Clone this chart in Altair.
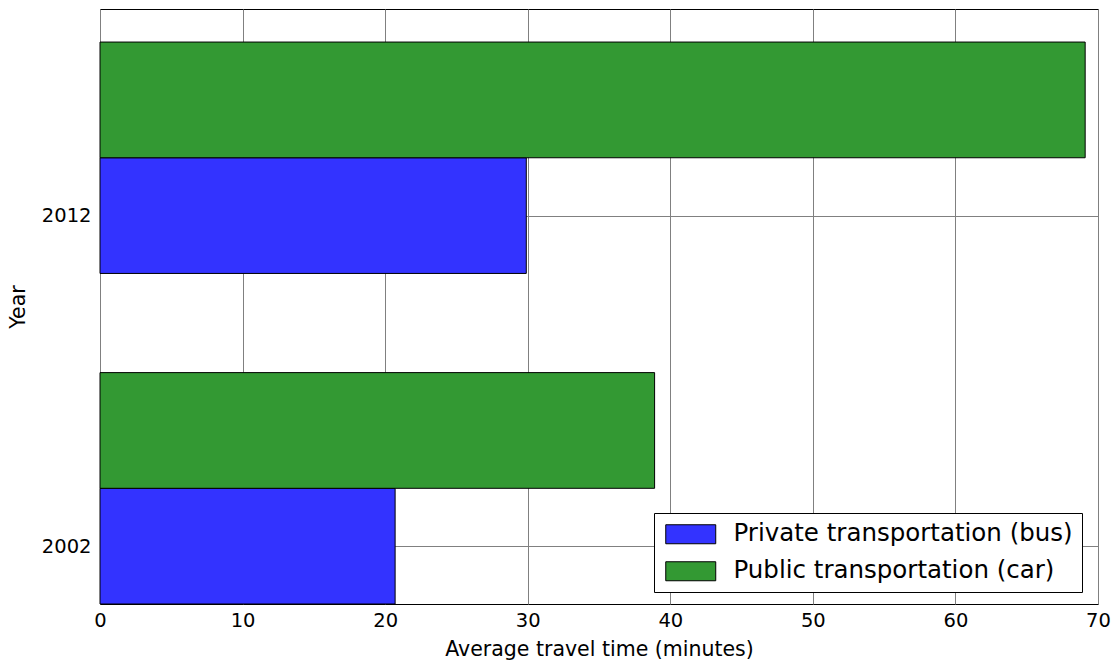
import altair as alt
import pandas as pd

years = [2002, 2012]
bus = [20.7, 29.9]
car = [38.9, 69.1]
modes = ["Private transportation (bus)", "Public transportation (car)"]
colors = ["#3333ff", "#339933"]

rows = []
for i, y in enumerate(years):
    rows.append({"year": y, "mode": modes[0], "minutes": bus[i], "slot": 0})
    rows.append({"year": y, "mode": modes[1], "minutes": car[i], "slot": 1})
df = pd.DataFrame(rows)

FONT = "DejaVu Sans"

bars = (
    alt.Chart(df)
    .transform_calculate(
        y0="datum.year - 1.75 + datum.slot * 3.5",
        y1="datum.year + 1.75 + datum.slot * 3.5",
    )
    .mark_bar(stroke="black", strokeWidth=1, opacity=1)
    .encode(
        x=alt.X(
            "minutes:Q",
            scale=alt.Scale(domain=[0, 70], nice=False, zero=True),
            axis=alt.Axis(
                values=[0, 10, 20, 30, 40, 50, 60, 70],
                title="Average travel time (minutes)",
                labelFontSize=19.5,
                titleFontSize=20.5,
                labelPadding=7,
                titlePadding=10,
                labelFlush=False,
                labelOverlap=False,
            ),
        ),
        x2=alt.value(0),
        y=alt.Y(
            "y0:Q",
            scale=alt.Scale(domain=[2000.25, 2018.25], nice=False, zero=False),
            axis=alt.Axis(
                values=years,
                format="d",
                title="Year",
                labelFontSize=19.5,
                titleFontSize=20.5,
                labelPadding=9,
                titlePadding=13,
                labelFlush=False,
                labelOverlap=False,
            ),
        ),
        y2="y1:Q",
        color=alt.Color(
            "mode:N",
            scale=alt.Scale(domain=modes, range=colors),
            legend=alt.Legend(
                title=None,
                orient="none",
                legendX=554,
                legendY=504,
                padding=9,
                strokeColor="black",
                fillColor="white",
                cornerRadius=0,
                labelFontSize=24.5,
                labelFont=FONT,
                labelColor="black",
                labelOffset=46,
                labelLimit=600,
                rowPadding=12,
                symbolType="M-1,-1L4.263,-1L4.263,1L-1,1Z",
                symbolSize=361,
                symbolStrokeColor="black",
                symbolStrokeWidth=1,
                symbolOpacity=1,
            ),
        ),
    )
)

chart = (
    bars.properties(
        width=998,
        height=595,
        autosize=alt.AutoSizeParams(type="none"),
        padding={"left": 100, "top": 9, "right": 15, "bottom": 60},
    )
    .configure(font=FONT)
    .configure_view(stroke="black", strokeWidth=1)
    .configure_axis(
        grid=True,
        gridColor="#808080",
        gridWidth=1,
        gridOpacity=1,
        domain=False,
        ticks=False,
        labelColor="black",
        titleColor="black",
        titleFontWeight="normal",
        labelFont=FONT,
        titleFont=FONT,
    )
)

chart.save("out.html", embed_options={"renderer": "svg", "actions": False})
